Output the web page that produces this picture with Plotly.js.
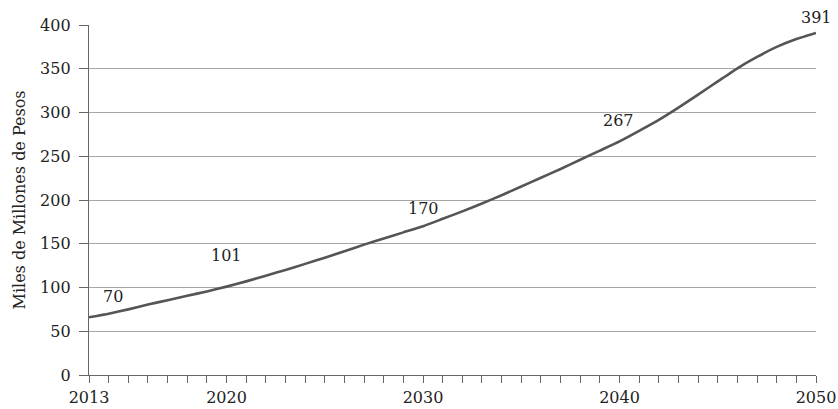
<!DOCTYPE html>
<html>
<head>
<meta charset="utf-8">
<script src="https://cdn.plot.ly/plotly-3.0.1.min.js"></script>
<style>
  html, body { margin: 0; padding: 0; background: #ffffff; }
  #chart { width: 838px; height: 409px; }
</style>
</head>
<body>
<div id="chart"></div>
<script>
// Yearly projection, thousands of millions of pesos
const years = [2013, 2014, 2015, 2016, 2017, 2018, 2019, 2020, 2021, 2022,
               2023, 2024, 2025, 2026, 2027, 2028, 2029, 2030, 2031, 2032,
               2033, 2034, 2035, 2036, 2037, 2038, 2039, 2040, 2041, 2042,
               2043, 2044, 2045, 2046, 2047, 2048, 2049, 2050];
const values = [66, 70, 75, 80.5, 85.5, 90.5, 95.5, 101, 107, 113.5,
                120, 127, 134, 141.5, 149, 156, 163, 170, 178.5, 187,
                196, 205.5, 215.5, 225.5, 235.5, 246, 256.5, 267, 279, 291.5,
                305.5, 320.5, 335.5, 350.5, 363.5, 375, 384, 391];

// Years that carry a printed label on the x axis
const labeledYears = [2013, 2020, 2030, 2040, 2050];

// Values written next to the curve
const labelYears = [2014, 2020, 2030, 2040, 2050];
const labelValues = [70, 101, 170, 267, 391];
const labelShiftY = [17, 31, 18, 21, 15];
const labelShiftX = [4, 0, 0, -1, 0];

const font = { family: '"DejaVu Serif", serif', size: 16, color: '#222222' };

const trace = {
  x: years,
  y: values,
  type: 'scatter',
  mode: 'lines',
  line: { color: '#555555', width: 2.6, shape: 'spline', smoothing: 0.4 },
  hoverinfo: 'x+y'
};

const annotations = labelYears.map((yr, i) => ({
  x: yr,
  y: labelValues[i],
  xref: 'x',
  yref: 'y',
  text: String(labelValues[i]),
  showarrow: false,
  xanchor: 'center',
  yanchor: 'middle',
  xshift: labelShiftX[i],
  yshift: labelShiftY[i],
  font: font
}));

const layout = {
  width: 838,
  height: 409,
  margin: { l: 89, r: 22, t: 25, b: 34, pad: 0 },
  paper_bgcolor: '#ffffff',
  plot_bgcolor: '#ffffff',
  showlegend: false,
  font: font,
  xaxis: {
    range: [2013, 2050],
    tickvals: years,
    ticktext: years.map(y => labeledYears.includes(y) ? String(y) : ''),
    ticks: 'outside',
    ticklen: 7,
    tickwidth: 1,
    tickcolor: '#666666',
    showgrid: false,
    zeroline: false,
    showline: true,
    linecolor: '#666666',
    linewidth: 1.2,
    tickfont: font,
    ticklabelstandoff: 1
  },
  yaxis: {
    range: [0, 400],
    tickvals: [0, 50, 100, 150, 200, 250, 300, 350, 400],
    ticks: 'outside',
    ticklen: 9,
    tickwidth: 1,
    tickcolor: '#666666',
    showgrid: true,
    gridcolor: '#a6a6a6',
    gridwidth: 1,
    zeroline: false,
    showline: true,
    linecolor: '#666666',
    linewidth: 1.2,
    tickfont: font,
    ticklabelstandoff: 5,
    title: { text: 'Miles de Millones de Pesos', font: font, standoff: 10 }
  },
  annotations: annotations
};

Plotly.newPlot('chart', [trace], layout, { displayModeBar: false, staticPlot: true });
</script>
</body>
</html>
